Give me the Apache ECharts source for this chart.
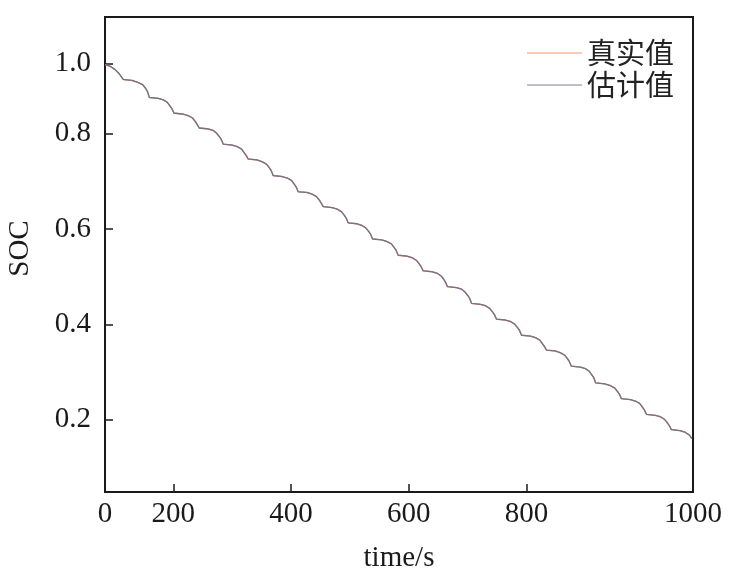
<!DOCTYPE html>
<html>
<head>
<meta charset="utf-8">
<script src="https://cdn.jsdelivr.net/npm/echarts@6/dist/echarts.min.js"></script>
<style>html,body{margin:0;padding:0;background:#fff}#c{width:735px;height:577px}</style>
</head>
<body>
<div id="c"></div>
<script>
const seriesNames = ['真实值', '估计值'];
const xTickValues = [84, 200, 400, 600, 800, 1083];
const xTickLabels = ['0', '200', '400', '600', '800', '1000'];
const yTickValues = [0.2, 0.4, 0.6, 0.8, 0.947];
const yTickLabels = ['0.2', '0.4', '0.6', '0.8', '1.0'];
const timeS = [84, 92, 101, 108,
115.1,130.4,138.9,147.9,152.6,156.0,
159.3,174.6,183.1,189.8,194.5,197.9,
201.2,216.5,225.0,232.7,237.4,240.8,
244.1,259.4,267.9,273.5,278.2,281.6,
284.9,300.2,308.7,315.9,320.6,324.0,
327.3,342.6,351.1,358.4,363.1,366.5,
369.8,385.1,393.6,400.8,405.5,408.9,
412.2,427.5,436.0,443.3,448.0,451.4,
454.7,470.0,478.5,485.7,490.4,493.8,
497.1,512.4,520.9,527.2,531.9,535.3,
538.6,553.9,562.4,570.6,575.3,578.7,
582.0,597.3,605.8,613.1,617.8,621.2,
624.5,639.8,648.3,654.5,659.2,662.6,
665.9,681.2,689.7,695.3,700.0,703.4,
706.7,722.0,730.5,737.7,742.4,745.8,
749.1,764.4,772.9,780.2,784.9,788.3,
791.6,806.9,815.4,822.6,827.3,830.7,
834.0,849.3,857.8,865.0,869.7,873.1,
876.4,891.7,900.2,906.3,911.0,914.4,
917.7,933.0,941.5,949.9,954.6,958.0,
961.3,976.6,985.1,992.4,997.1,1000.5,
1003.8,1019.1,1027.6,1034.8,1039.5,1042.9,
1046.2,1061,1070,1077,1081];
const socTrue = [0.9451,0.9420,0.9346,0.9263,
0.9136,0.9115,0.9083,0.9031,0.8957,0.8894,
0.8763,0.8742,0.8710,0.8658,0.8584,0.8521,
0.8435,0.8414,0.8382,0.8330,0.8256,0.8193,
0.8120,0.8099,0.8067,0.8015,0.7941,0.7878,
0.7783,0.7762,0.7730,0.7678,0.7604,0.7541,
0.7468,0.7447,0.7415,0.7363,0.7289,0.7226,
0.7123,0.7102,0.7070,0.7018,0.6944,0.6881,
0.6786,0.6765,0.6733,0.6681,0.6607,0.6544,
0.6471,0.6450,0.6418,0.6366,0.6292,0.6229,
0.6128,0.6107,0.6075,0.6023,0.5949,0.5886,
0.5792,0.5771,0.5739,0.5687,0.5613,0.5550,
0.5449,0.5428,0.5396,0.5344,0.5270,0.5207,
0.5125,0.5104,0.5072,0.5020,0.4946,0.4883,
0.4789,0.4768,0.4736,0.4684,0.4610,0.4547,
0.4439,0.4418,0.4386,0.4334,0.4260,0.4197,
0.4109,0.4088,0.4056,0.4004,0.3930,0.3867,
0.3773,0.3752,0.3720,0.3668,0.3594,0.3531,
0.3457,0.3436,0.3404,0.3352,0.3278,0.3215,
0.3121,0.3100,0.3068,0.3016,0.2942,0.2879,
0.2770,0.2749,0.2717,0.2665,0.2591,0.2528,
0.2442,0.2421,0.2389,0.2337,0.2263,0.2200,
0.2111,0.2090,0.2058,0.2006,0.1932,0.1869,
0.1790,0.1769,0.1735,0.1675,0.1600];
const socEst = [0.945,0.942,0.935,0.926,
0.914,0.912,0.908,0.903,0.896,0.889,
0.876,0.874,0.871,0.866,0.858,0.852,
0.843,0.841,0.838,0.833,0.826,0.819,
0.812,0.810,0.807,0.801,0.794,0.788,
0.778,0.776,0.773,0.768,0.760,0.754,
0.747,0.745,0.741,0.736,0.729,0.722,
0.712,0.710,0.707,0.702,0.694,0.688,
0.678,0.677,0.673,0.668,0.661,0.654,
0.647,0.645,0.642,0.636,0.629,0.623,
0.613,0.611,0.607,0.602,0.595,0.589,
0.579,0.577,0.574,0.569,0.561,0.555,
0.545,0.543,0.540,0.534,0.527,0.521,
0.512,0.510,0.507,0.502,0.495,0.488,
0.479,0.477,0.474,0.468,0.461,0.455,
0.444,0.442,0.439,0.433,0.426,0.420,
0.411,0.409,0.406,0.400,0.393,0.387,
0.377,0.375,0.372,0.367,0.359,0.353,
0.346,0.344,0.340,0.335,0.328,0.321,
0.312,0.310,0.307,0.302,0.294,0.288,
0.277,0.275,0.272,0.266,0.259,0.253,
0.244,0.242,0.239,0.234,0.226,0.220,
0.211,0.209,0.206,0.200,0.193,0.187,
0.179,0.177,0.173,0.167,0.160];

const trueData = timeS.map((t, i) => [t, socTrue[i]]);
const estData = timeS.map((t, i) => [t, socEst[i]]);

const axisFont = 'Liberation Serif';
const chart = echarts.init(document.getElementById('c'), null, {renderer: 'canvas'});
chart.setOption({
  animation: false,
  backgroundColor: '#ffffff',
  grid: {left: 105, right: 42, top: 17, bottom: 85, containLabel: false, outerBoundsMode: 'none',
    show: true, borderColor: '#1a1a1a', borderWidth: 2, backgroundColor: 'transparent'},
  legend: {
    orient: 'vertical', left: 522, top: 33,
    icon: 'rect', itemWidth: 55, itemHeight: 1, itemGap: 2,
    data: [
      {name: seriesNames[0], itemStyle: {color: '#F29A6A'}},
      {name: seriesNames[1], itemStyle: {color: '#7D8296'}}
    ],
    textStyle: {fontFamily: 'Noto Sans CJK SC', fontSize: 29, color: '#222', lineHeight: 30}
  },
  xAxis: {
    type: 'value', min: xTickValues[0], max: xTickValues[xTickValues.length - 1],
    name: 'time/s', nameLocation: 'middle', nameGap: 52,
    nameTextStyle: {fontFamily: axisFont, fontSize: 29, color: '#1a1a1a'},
    axisLine: {show: true, lineStyle: {color: '#1a1a1a', width: 2}},
    axisTick: {show: true, inside: true, length: 8, customValues: xTickValues, lineStyle: {color: '#1a1a1a', width: 1.5}},
    axisLabel: {customValues: xTickValues, margin: 8, fontFamily: axisFont, fontSize: 29, color: '#1a1a1a',
      formatter: v => { const i = xTickValues.indexOf(v); return i >= 0 ? xTickLabels[i] : ''; }},
    splitLine: {show: false}
  },
  yAxis: {
    type: 'value', min: 0.048, max: 1.045,
    name: 'SOC', nameLocation: 'middle', nameGap: 70,
    nameTextStyle: {fontFamily: axisFont, fontSize: 29, color: '#1a1a1a', padding: [0, 0, 0, 12]},
    axisLine: {show: true, lineStyle: {color: '#1a1a1a', width: 2}},
    axisTick: {show: true, inside: true, length: 8, customValues: yTickValues, lineStyle: {color: '#1a1a1a', width: 1.5}},
    axisLabel: {customValues: yTickValues, margin: 14, fontFamily: axisFont, fontSize: 29, color: '#1a1a1a',
      formatter: v => { const i = yTickValues.indexOf(v); return i >= 0 ? yTickLabels[i] : ''; }},
    splitLine: {show: false}
  },
  series: [
    {name: seriesNames[0], type: 'line', data: trueData, showSymbol: false, symbol: 'none',
      lineStyle: {color: '#E8773F', width: 1.3}, itemStyle: {color: '#E8773F'}},
    {name: seriesNames[1], type: 'line', data: estData, showSymbol: false, symbol: 'none',
      lineStyle: {color: '#6F7490', width: 1.3}, itemStyle: {color: '#6F7490'}}
  ]
});
</script>
</body>
</html>
